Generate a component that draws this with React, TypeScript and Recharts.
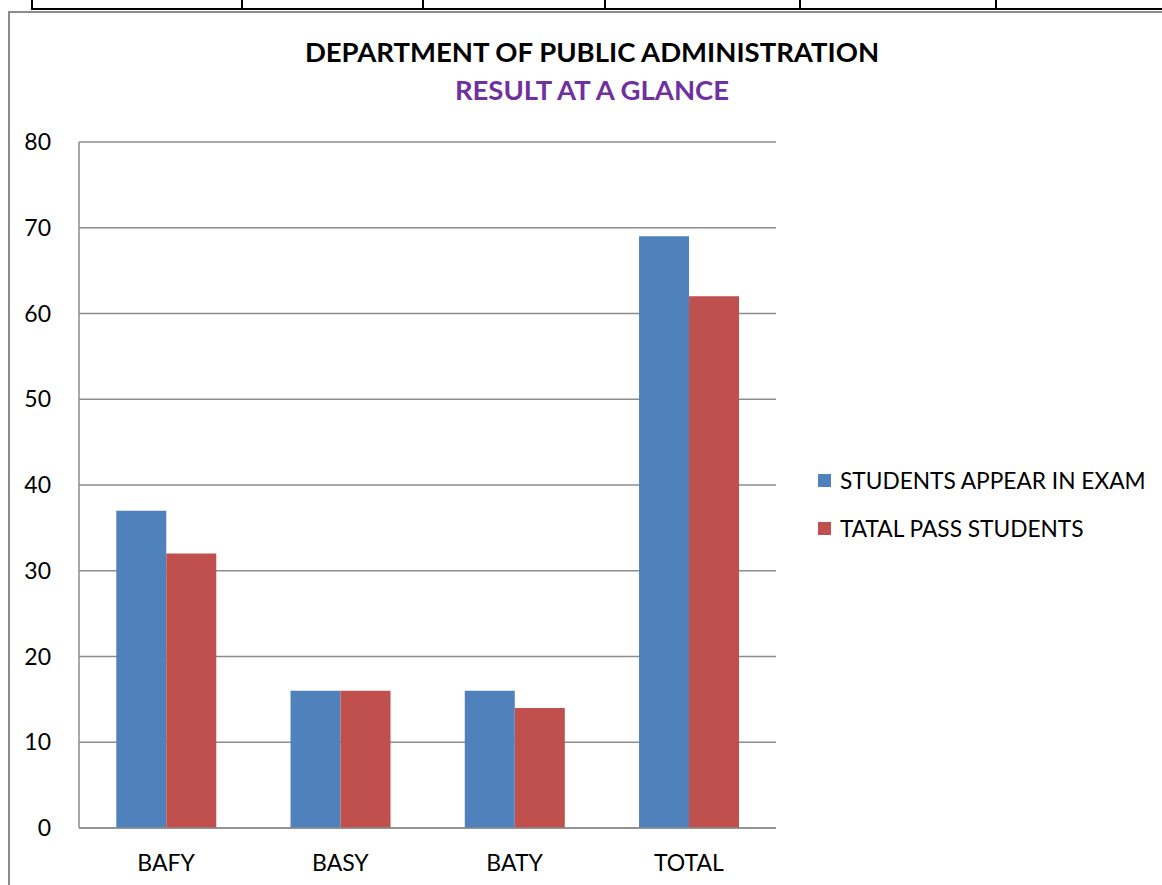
import React from 'react';
import { BarChart, Bar, XAxis, YAxis, CartesianGrid, Legend } from 'recharts';

const categories = ['BAFY', 'BASY', 'BATY', 'TOTAL'];
const appeared = [37, 16, 16, 69];
const passed = [32, 16, 14, 62];
const yTicks = [0, 10, 20, 30, 40, 50, 60, 70, 80];
const tableCols = [31, 241, 422, 604, 799, 995];

const FONT = 'Lato, "Open Sans", sans-serif';

const data = categories.map((name, i) => ({
    name,
    appeared: appeared[i],
    passed: passed[i],
}));

const LegendBox: React.FC<{ payload?: { value: string; color: string }[] }> = ({ payload }) => (
    <div style={{ fontFamily: FONT, fontSize: 22.7, color: '#000' }}>
        {(payload || []).map((item) => (
            <div key={item.value} style={{ display: 'flex', alignItems: 'center', height: 48 }}>
                <span style={{ width: 13, height: 13, background: item.color, marginRight: 9 }} />
                <span>{item.value}</span>
            </div>
        ))}
    </div>
);

export default function App() {
    return (
        <div style={{ position: 'absolute', left: 0, top: 0, width: 1162, height: 885, overflow: 'hidden', background: '#fff' }}>
            {/* table lines above the chart */}
            <div style={{ position: 'absolute', left: tableCols[0], top: 8, width: 1162, height: 2, background: '#000' }} />
            {tableCols.map((x) => (
                <div key={x} style={{ position: 'absolute', left: x, top: 0, width: 2, height: 9, background: '#000' }} />
            ))}
            {/* chart frame */}
            <div
                style={{
                    position: 'absolute',
                    left: 8,
                    top: 11,
                    width: 1200,
                    height: 900,
                    border: '2px solid #8c8c8c',
                }}
            />
            <div
                style={{
                    position: 'absolute',
                    top: 35,
                    left: 0,
                    width: 1184,
                    textAlign: 'center',
                    fontFamily: FONT,
                    fontWeight: 'bold',
                    fontSize: 27.5,
                    color: '#000',
                }}
            >
                DEPARTMENT OF PUBLIC ADMINISTRATION
            </div>
            <div
                style={{
                    position: 'absolute',
                    top: 73,
                    left: 0,
                    width: 1184,
                    textAlign: 'center',
                    fontFamily: FONT,
                    fontWeight: 'bold',
                    fontSize: 27.5,
                    color: '#7030A0',
                }}
            >
                RESULT AT A GLANCE
            </div>
            <div style={{ position: 'absolute', left: 0, top: 0 }}>
                <BarChart
                    width={1162}
                    height={885}
                    data={data}
                    margin={{ top: 142, right: 46, left: 19, bottom: 7 }}
                    barCategoryGap="21.4%"
                    barGap={0}
                >
                    <CartesianGrid vertical={false} stroke="#8c8c8c" strokeWidth={1.5} />
                    <XAxis
                        dataKey="name"
                        axisLine={{ stroke: '#8c8c8c', strokeWidth: 1.5 }}
                        tickLine={false}
                        height={50}
                        tick={{ fontSize: 23, fill: '#000', fontFamily: FONT }}
                        tickMargin={21}
                    />
                    <YAxis
                        width={60}
                        domain={[0, 80]}
                        ticks={yTicks}
                        axisLine={{ stroke: '#8c8c8c', strokeWidth: 1.5 }}
                        tickLine={false}
                        tick={{ fontSize: 23, fill: '#000', fontFamily: FONT }}
                        tickMargin={22}
                    />
                    <Legend
                        layout="vertical"
                        align="right"
                        verticalAlign="top"
                        wrapperStyle={{ left: 818, top: 456, width: 340 }}
                        content={<LegendBox />}
                    />
                    <Bar dataKey="appeared" name="STUDENTS APPEAR IN EXAM" fill="#4F81BD" isAnimationActive={false} />
                    <Bar dataKey="passed" name="TATAL PASS STUDENTS" fill="#C0504D" isAnimationActive={false} />
                </BarChart>
            </div>
        </div>
    );
}
